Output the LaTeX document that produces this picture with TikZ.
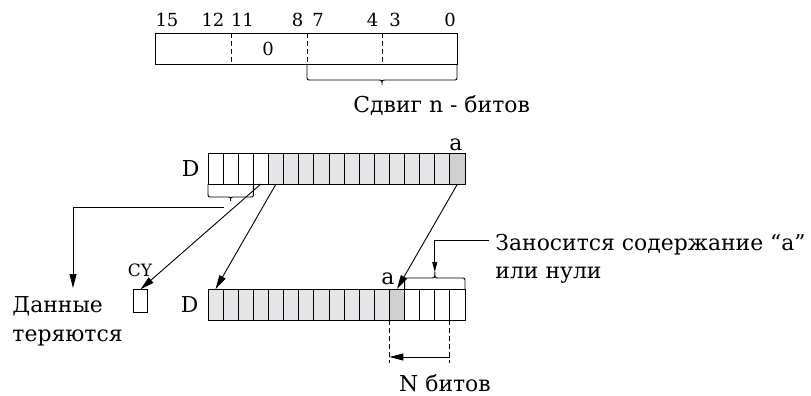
\documentclass[tikz,border=0pt]{standalone}
\usepackage{fontspec}
\setmainfont{DejaVu Serif}
\usetikzlibrary{arrows.meta,calc}
\definecolor{lg}{HTML}{E6E6E8}
\definecolor{dg}{HTML}{D0D0D0}
% #1 x1, #2 x2, #3 y of ends, #4 y of bar, #5 y of tip, #6 signed corner radius
\newcommand{\mybrace}[6]{%
  \pgfmathsetmacro\bxm{(#1+#2)/2}%
  \pgfmathsetmacro\bya{#4-#6}%
  \draw[brc] (#1,#3) -- (#1,\bya) .. controls (#1,#4) .. (#1+4,#4) -- (\bxm-4,#4)
    .. controls (\bxm,#4) .. (\bxm,#5) .. controls (\bxm,#4) .. (\bxm+4,#4)
    -- (#2-4,#4) .. controls (#2,#4) .. (#2,\bya) -- (#2,#3);
}
\begin{document}
\begin{tikzpicture}[x=1pt,y=-1pt, line width=0.9pt,
  cell/.style={draw, minimum width=15.12pt, minimum height=31pt, inner sep=0pt, outer sep=0pt},
  txt/.style={inner sep=0pt, font=\fontsize{21.9}{26}\selectfont},
  bit/.style={inner sep=0pt, font=\fontsize{18}{21}\selectfont},
  small/.style={inner sep=0pt, font=\fontsize{17}{20}\selectfont},
  arr/.style={-{Triangle[length=14pt,width=7pt]}},
  sarr/.style={-{Triangle[length=10pt,width=5pt]}},
  dsh/.style={dash pattern=on 5pt off 3pt},
  brc/.style={line width=0.9pt}]
\useasboundingbox (0,0) rectangle (811,396);

% ---- top 16-bit register
\node[draw, minimum width=302pt, minimum height=31pt, inner sep=0pt, outer sep=0pt] (reg) at (306,48.5) {};
\draw[dsh] (231,33) -- (231,64);
\draw[dsh] (307,33) -- (307,64);
\draw[dsh] (382,33) -- (382,64);
\node[bit, anchor=base] (n15) at (167,27) {15};
\node[bit, anchor=base] (n12) at (213,27) {12};
\node[bit, anchor=base] (n11) at (242.5,27) {11};
\node[bit, anchor=base] (n8) at (297.5,27) {8};
\node[bit, anchor=base] (n7) at (318,27) {7};
\node[bit, anchor=base] (n4) at (372.5,27) {4};
\node[bit, anchor=base] (n3) at (395,27) {3};
\node[bit, anchor=base] (n0) at (450,27) {0};
\node[bit, anchor=base] (zero) at (268,56) {0};
\mybrace{307}{457}{64}{80}{85}{4}
\node[txt, anchor=base west] (shift) at (353,112) {Сдвиг n - битов};

% ---- upper D register
\foreach \i in {1,...,17}{
  \ifnum\i<5 \def\cf{white}\else\ifnum\i<17 \def\cf{lg}\else\def\cf{dg}\fi\fi
  \node[cell, fill=\cf] (t\i) at ({208+(\i-0.5)*15.12},168.5) {};
}
\node[txt, anchor=east] (dtop) at (200,168.5) {D};
\node[txt, anchor=base] (atop) at (456,150) {a};
\mybrace{208}{253.4}{184}{197}{201}{4}

% ---- lower D register
\foreach \i in {1,...,17}{
  \ifnum\i<13 \def\cf{lg}\else\ifnum\i<14 \def\cf{dg}\else\def\cf{white}\fi\fi
  \node[cell, fill=\cf] (b\i) at ({208+(\i-0.5)*15.12},304.5) {};
}
\node[txt, anchor=east] (dbot) at (199,304.5) {D};
\node[txt, anchor=base] (abot) at (388,284) {a};
\mybrace{404.6}{465}{289}{278}{272}{-4}

% ---- CY
\node[draw, minimum width=14.4pt, minimum height=23.4pt, inner sep=0pt, outer sep=0pt] (cy) at (140.5,301) {};
\node[small, anchor=base] (cylab) at (140,276) {CY};

% ---- lost data
\node[txt, anchor=base west] (lost1) at (12,312) {Данные};
\node[txt, anchor=base west] (lost2) at (12,341) {теряются};
\coordinate (lostst) at (224,207);
\coordinate (lostend) at (73,288);
\draw[arr] (lostst) -| (lostend);

% ---- shift arrows
\draw[arr] (t4.south) -- (cy.north);
\draw[arr] (t5.south) -- (b1.north);
\draw[arr] (t17.south) -- (b13.north);

% ---- fill note
\node[txt, anchor=base west] (fill1) at (495,250) {Заносится содержание “a”};
\node[txt, anchor=base west] (fill2) at (495,278) {или нули};
\coordinate (fillst) at (489,240);
\coordinate (filltip) at (434.8,272);
\draw[sarr] (fillst) -| (filltip);

% ---- N bits
\draw[dsh] (b13.south west) -- ++(0,43);
\draw[dsh] (b16.south east) -- ++(0,43);
\draw[arr] ($(b16.south east)+(0,37)$) -- ($(b13.south west)+(0,37)$);
\node[txt, anchor=base] (nbits) at (445,391) {N битов};
\end{tikzpicture}
\end{document}
